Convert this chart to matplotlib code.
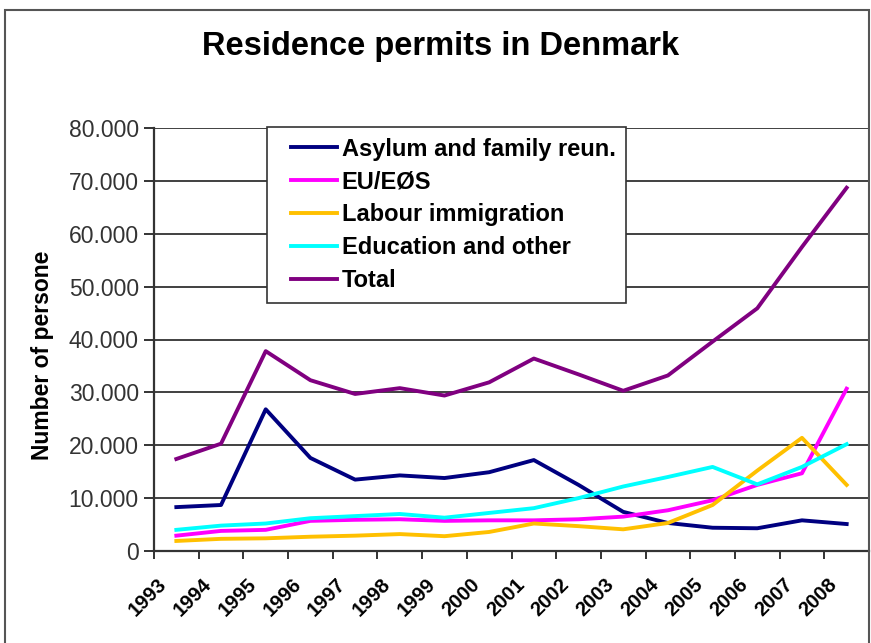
import numpy as np
import matplotlib.pyplot as plt
from matplotlib.patches import Rectangle
from matplotlib.transforms import ScaledTranslation

plt.rcParams['font.family'] = ['Liberation Sans', 'DejaVu Sans']

years = [str(y) for y in range(1993, 2009)]

asylum = [8300, 8700, 26800, 17600, 13500, 14300, 13800, 14900, 17200, 12500, 7400, 5300, 4400, 4300, 5800, 5100]
eu_eos = [2900, 3800, 4000, 5700, 5900, 6000, 5700, 5800, 5800, 6000, 6500, 7700, 9600, 12500, 14700, 30700]
labour = [1900, 2300, 2400, 2700, 2900, 3200, 2800, 3600, 5200, 4700, 4100, 5300, 8700, 15200, 21400, 12500]
education = [4000, 4800, 5200, 6200, 6600, 7000, 6300, 7200, 8100, 10000, 12200, 14000, 15900, 12600, 15900, 20200]
total = [17400, 20300, 37800, 32300, 29700, 30800, 29400, 31900, 36400, 33400, 30300, 33200, 39600, 45900, 57500, 68700]

series = [
    ('Asylum and family reun.', asylum, '#000080'),
    ('EU/EØS', eu_eos, '#FF00FF'),
    ('Labour immigration', labour, '#FFC000'),
    ('Education and other', education, '#00FFFF'),
    ('Total', total, '#800080'),
]

fig = plt.figure(figsize=(8.71, 6.43), dpi=100)
fig.patches.append(Rectangle((5 / 871, -0.1), 864 / 871, 1.1 - 10 / 643,
                             transform=fig.transFigure, fill=False,
                             edgecolor='#555555', linewidth=1.5))

ax = fig.add_axes([154 / 871, 92 / 643, 715 / 871, 423 / 643])

x = list(range(len(years)))
for name, vals, col in series:
    ax.plot(x, vals, color=col, linewidth=2.8, label=name, solid_joinstyle='round')

ax.set_xlim(-0.5, len(years) - 0.5)
ax.set_ylim(0, 80000)
yt = list(range(0, 80001, 10000))
ax.set_yticks(yt)
ax.set_yticklabels(['0' if v == 0 else f'{v // 1000}.000' for v in yt],
                   fontsize=16.5, color='#333333')
ax.yaxis.grid(True, color='#404040', linewidth=1.4)
ax.set_axisbelow(True)

# tick marks between categories, labels at the centres
ax.set_xticks([i - 0.5 for i in range(len(years) + 1)])
ax.set_xticklabels([])
ax.set_xticks(x, minor=True)
ax.set_xticklabels(years, minor=True, rotation=45, ha='right',
                   rotation_mode='anchor', fontsize=14.5, fontweight='bold')
ax.tick_params(axis='x', which='minor', length=0, pad=10)
ax.tick_params(axis='x', which='major', length=6, width=1.4, color='#333333')
ax.tick_params(axis='y', length=7, width=1.4, color='#333333', pad=4)
shift = ScaledTranslation(-0.19, -0.10, fig.dpi_scale_trans)
for lab in ax.get_xticklabels(minor=True):
    lab.set_transform(lab.get_transform() + shift)

for s in ['top', 'right']:
    ax.spines[s].set_visible(False)
for s in ['left', 'bottom']:
    ax.spines[s].set_linewidth(1.6)
    ax.spines[s].set_color('#333333')

ax.set_ylabel('Number of persone', fontsize=16.5, fontweight='bold')
ax.yaxis.set_label_coords(-0.140, 0.463)
fig.text(441 / 871, 1 - 47 / 643, 'Residence permits in Denmark',
         ha='center', va='center', fontsize=23.5, fontweight='bold')

leg = ax.legend(loc='upper left', bbox_to_anchor=(267 / 871, 1 - 127 / 643),
                bbox_transform=fig.transFigure, borderaxespad=0,
                fancybox=False, frameon=True,
                edgecolor='#333333', framealpha=1, borderpad=0.45,
                handlelength=2.5, handletextpad=0.22, labelspacing=0.42,
                prop={'size': 17, 'weight': 'bold'})
leg.get_frame().set_linewidth(1.2)
# indent the legend keys a little from the frame
for line in leg.get_lines():
    xd = np.asarray(line.get_xdata(), dtype=float)
    line.set_xdata(np.linspace(xd[0] + 9.5, xd[-1], len(xd)))

fig.savefig('out.png', dpi=100, facecolor='white')
